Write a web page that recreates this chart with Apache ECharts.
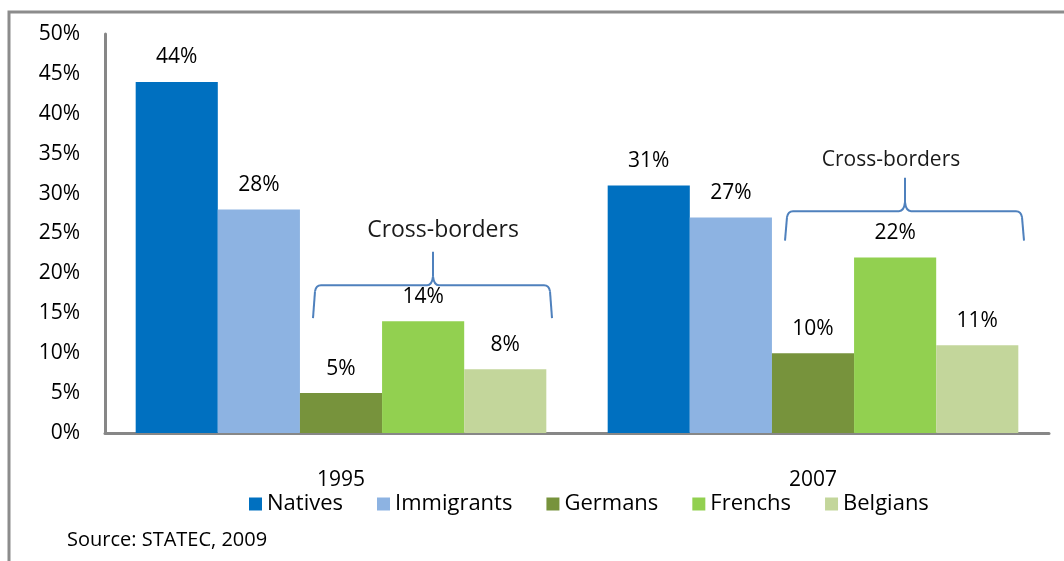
<!DOCTYPE html>
<html>
<head>
<meta charset="utf-8">
<script src="https://cdn.jsdelivr.net/npm/echarts@6/dist/echarts.min.js"></script>
<style>
  html, body { margin: 0; padding: 0; background: #fff; }
  #chart { width: 1064px; height: 561px; }
</style>
</head>
<body>
<div id="chart"></div>
<script>
const years = ['1995', '2007'];
const seriesNames = ['Natives', 'Immigrants', 'Germans', 'Frenchs', 'Belgians'];
const natives = [44, 31];
const immigrants = [28, 27];
const germans = [5, 10];
const frenchs = [14, 22];
const belgians = [8, 11];
const colors = ['#0070C0', '#8DB3E2', '#77933C', '#92D050', '#C3D69B'];
const yTicks = [0, 5, 10, 15, 20, 25, 30, 35, 40, 45, 50];

const font = '"Open Sans", "Noto Sans", sans-serif';
const chart = echarts.init(document.getElementById('chart'));

const values = [natives, immigrants, germans, frenchs, belgians];
const series = seriesNames.map((name, i) => ({
  name: name,
  type: 'bar',
  data: values[i],
  barGap: '0%',
  barCategoryGap: '13%',
  itemStyle: { color: colors[i] },
  label: {
    show: true,
    position: 'top',
    distance: 14,
    formatter: p => p.value + '%',
    color: '#000',
    fontSize: 21,
    fontFamily: font
  }
}));

chart.setOption({
  animation: false,
  grid: { left: 105, right: 15, top: 34, bottom: 128 },
  legend: {
    data: seriesNames,
    left: 244,
    top: 488,
    itemWidth: 13,
    itemHeight: 13,
    itemGap: 34,
    icon: 'rect',
    textStyle: { fontSize: 22, color: '#000', fontFamily: font }
  },
  xAxis: {
    type: 'category',
    data: years,
    axisLine: { lineStyle: { color: '#878787', width: 3 } },
    axisTick: { show: false },
    axisLabel: { margin: 37, fontSize: 21, color: '#000', fontFamily: font }
  },
  yAxis: {
    type: 'value',
    min: yTicks[0],
    max: yTicks[yTicks.length - 1],
    interval: 5,
    axisLine: { show: true, lineStyle: { color: '#878787', width: 3 } },
    axisTick: { show: false },
    splitLine: { show: false },
    axisLabel: { margin: 25, fontSize: 21, color: '#000', fontFamily: font, formatter: '{value}%' }
  },
  series: series
});

// Cross-border curly brackets, placed from the axes
function bracket(cat, yH, yEnd, yPeak, yText, textDx, textSize) {
  const cx = chart.convertToPixel({ xAxisIndex: 0 }, cat);
  const h = chart.convertToPixel({ yAxisIndex: 0 }, yH);
  const e = chart.convertToPixel({ yAxisIndex: 0 }, yEnd);
  const pk = chart.convertToPixel({ yAxisIndex: 0 }, yPeak);
  const t = chart.convertToPixel({ yAxisIndex: 0 }, yText);
  const L = cx - 28, R = cx + 211, P = cx + 92;
  const st = { fill: null, stroke: '#4F81BD', lineWidth: 2 };
  const curve = (x1, y1, cx1, cy1, x2, y2) =>
    ({ type: 'bezierCurve', shape: { x1: x1, y1: y1, cpx1: cx1, cpy1: cy1, x2: x2, y2: y2 }, style: st });
  const line = (x1, y1, x2, y2) =>
    ({ type: 'line', shape: { x1: x1, y1: y1, x2: x2, y2: y2 }, style: st });
  return [
    line(L, e, L + 2, h + 6),
    curve(L + 2, h + 6, L + 3, h, L + 8, h),
    line(L + 8, h, P - 6, h),
    curve(P - 6, h, P - 1, h, P, h - 9),
    line(P, h - 9, P, pk),
    curve(P, h - 9, P + 1, h, P + 6, h),
    line(P + 6, h, R - 8, h),
    curve(R - 8, h, R - 3, h, R - 2, h + 6),
    line(R - 2, h + 6, R, e),
    {
      type: 'text', x: P + textDx, y: t,
      style: {
        text: 'Cross-borders', fontSize: textSize, fontFamily: font,
        fill: '#1a1a1a', stroke: '#fff', lineWidth: 0.6,
        align: 'center', verticalAlign: 'middle'
      }
    }
  ];
}

chart.setOption({
  graphic: [
    { type: 'rect', shape: { x: 9, y: 12, width: 1100, height: 600 }, style: { fill: null, stroke: '#8c8c8c', lineWidth: 3 } },
    { type: 'text', x: 67, y: 540, style: { text: 'Source: STATEC, 2009', fontSize: 20, fontFamily: font, fill: '#000', verticalAlign: 'middle' } }
  ].concat(bracket('1995', 18.5, 14.4, 22.7, 25.4, 10, 23), bracket('2007', 27.8, 24.1, 32, 34.2, -14, 21))
});
</script>
</body>
</html>
